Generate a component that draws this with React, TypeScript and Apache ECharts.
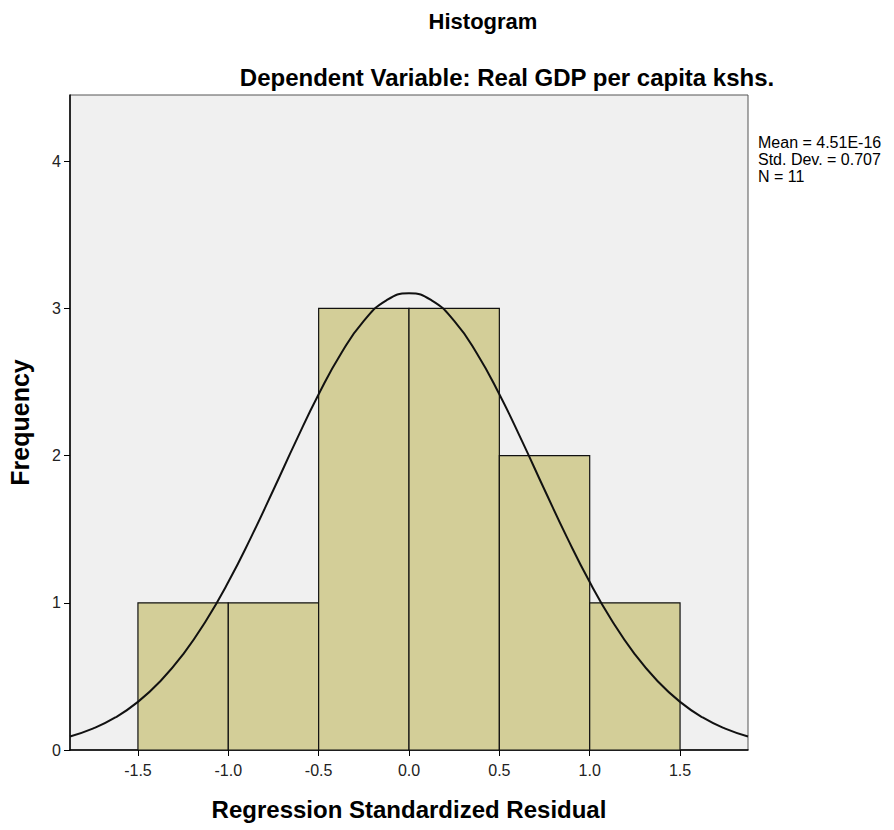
import React, { useEffect, useRef } from "react";
import * as echarts from "echarts";

const binStarts = [-1.5, -1.0, -0.5, 0.0, 0.5, 1.0];
const binEnds = [-1.0, -0.5, 0.0, 0.5, 1.0, 1.5];
const frequencies = [1, 1, 3, 3, 2, 1];

const curveX = [-1.876, -1.75, -1.625, -1.5, -1.375, -1.25, -1.125, -1.0, -0.875, -0.75, -0.625, -0.5, -0.375, -0.25, -0.125, 0.0,
  0.125, 0.25, 0.375, 0.5, 0.625, 0.75, 0.875, 1.0, 1.125, 1.25, 1.375, 1.5, 1.625, 1.75, 1.876];
const curveY = [0.092, 0.145, 0.221, 0.327, 0.469, 0.65, 0.875, 1.141, 1.443, 1.768, 2.1, 2.417, 2.696, 2.915, 3.055, 3.103,
  3.055, 2.915, 2.696, 2.417, 2.1, 1.768, 1.443, 1.141, 0.875, 0.65, 0.469, 0.327, 0.221, 0.145, 0.092];

const xTicks = [-1.5, -1.0, -0.5, 0.0, 0.5, 1.0, 1.5];
const yTicks = [0, 1, 2, 3, 4];

const statsLines = ["Mean = 4.51E-16", "Std. Dev. = 0.707", "N = 11"];

export default function App() {
  const ref = useRef<HTMLDivElement>(null);
  useEffect(() => {
    if (!ref.current) return;
    const chart = echarts.init(ref.current, null, { renderer: "svg" });
    const font = "'Liberation Sans', Arial, sans-serif";
    chart.setOption({
      animation: false,
      backgroundColor: "#ffffff",
      textStyle: { fontFamily: font },
      title: [
        {
          text: "Histogram",
          left: 478,
          top: 5,
          textAlign: "center",
          textStyle: { fontFamily: font, fontSize: 22, fontWeight: "bold", color: "#000" },
        },
        {
          text: "Dependent Variable: Real GDP per capita kshs.",
          left: 502,
          top: 60,
          textAlign: "center",
          textStyle: { fontFamily: font, fontSize: 24, fontWeight: "bold", color: "#000" },
        },
      ],
      grid: {
        left: 70,
        top: 95,
        right: 146,
        bottom: 80,
        outerBoundsMode: "none",
        containLabel: false,
        show: true,
        backgroundColor: "#f0f0f0",
        borderColor: "#555",
        borderWidth: 1,
      },
      graphic: [
        {
          type: "text",
          left: 758,
          top: 134,
          style: {
            text: statsLines.join("\n"),
            fontFamily: font,
            fontSize: 16,
            lineHeight: 17,
            fill: "#000",
          },
        },
      ],
      xAxis: {
        type: "value",
        min: -1.876,
        max: 1.876,
        name: "Regression Standardized Residual",
        nameLocation: "middle",
        nameGap: 46,
        nameTextStyle: { fontFamily: font, fontSize: 24, fontWeight: "bold", color: "#000", lineHeight: 26 },
        axisLine: { show: true, onZero: false, lineStyle: { color: "#000", width: 1.5 } },
        axisTick: { show: true, customValues: xTicks, length: 6, lineStyle: { color: "#000" } },
        axisLabel: {
          customValues: xTicks,
          formatter: (v: number) => v.toFixed(1),
          fontSize: 16,
          color: "#222",
          margin: 12,
        },
        splitLine: { show: false },
      },
      yAxis: {
        type: "value",
        min: 0,
        max: 4.45,
        name: "Frequency",
        nameLocation: "middle",
        nameGap: 38,
        nameTextStyle: { fontFamily: font, fontSize: 25, fontWeight: "bold", color: "#000" },
        axisLine: { show: true, onZero: false, lineStyle: { color: "#000", width: 1.5 } },
        axisTick: { show: true, customValues: yTicks, length: 6, lineStyle: { color: "#000" } },
        axisLabel: { customValues: yTicks, fontSize: 16, color: "#222", margin: 9 },
        splitLine: { show: false },
      },
      series: [
        {
          type: "custom",
          data: frequencies.map((f, i) => [binStarts[i], binEnds[i], f]),
          encode: { x: [0, 1], y: 2 },
          renderItem: (params: any, api: any) => {
            const p0 = api.coord([api.value(0), api.value(2)]);
            const p1 = api.coord([api.value(1), 0]);
            return {
              type: "rect",
              shape: { x: p0[0], y: p0[1], width: p1[0] - p0[0], height: p1[1] - p0[1] },
              style: { fill: "#d3ce98", stroke: "#111", lineWidth: 1.2 },
            };
          },
          z: 2,
        },
        {
          type: "line",
          data: curveX.map((x, i) => [x, curveY[i]]),
          smooth: true,
          showSymbol: false,
          symbol: "none",
          lineStyle: { color: "#111", width: 2 },
          z: 3,
        },
      ],
    });
    return () => chart.dispose();
  }, []);
  return <div ref={ref} style={{ position: "fixed", left: 0, top: 0, width: 894, height: 830 }} />;
}
